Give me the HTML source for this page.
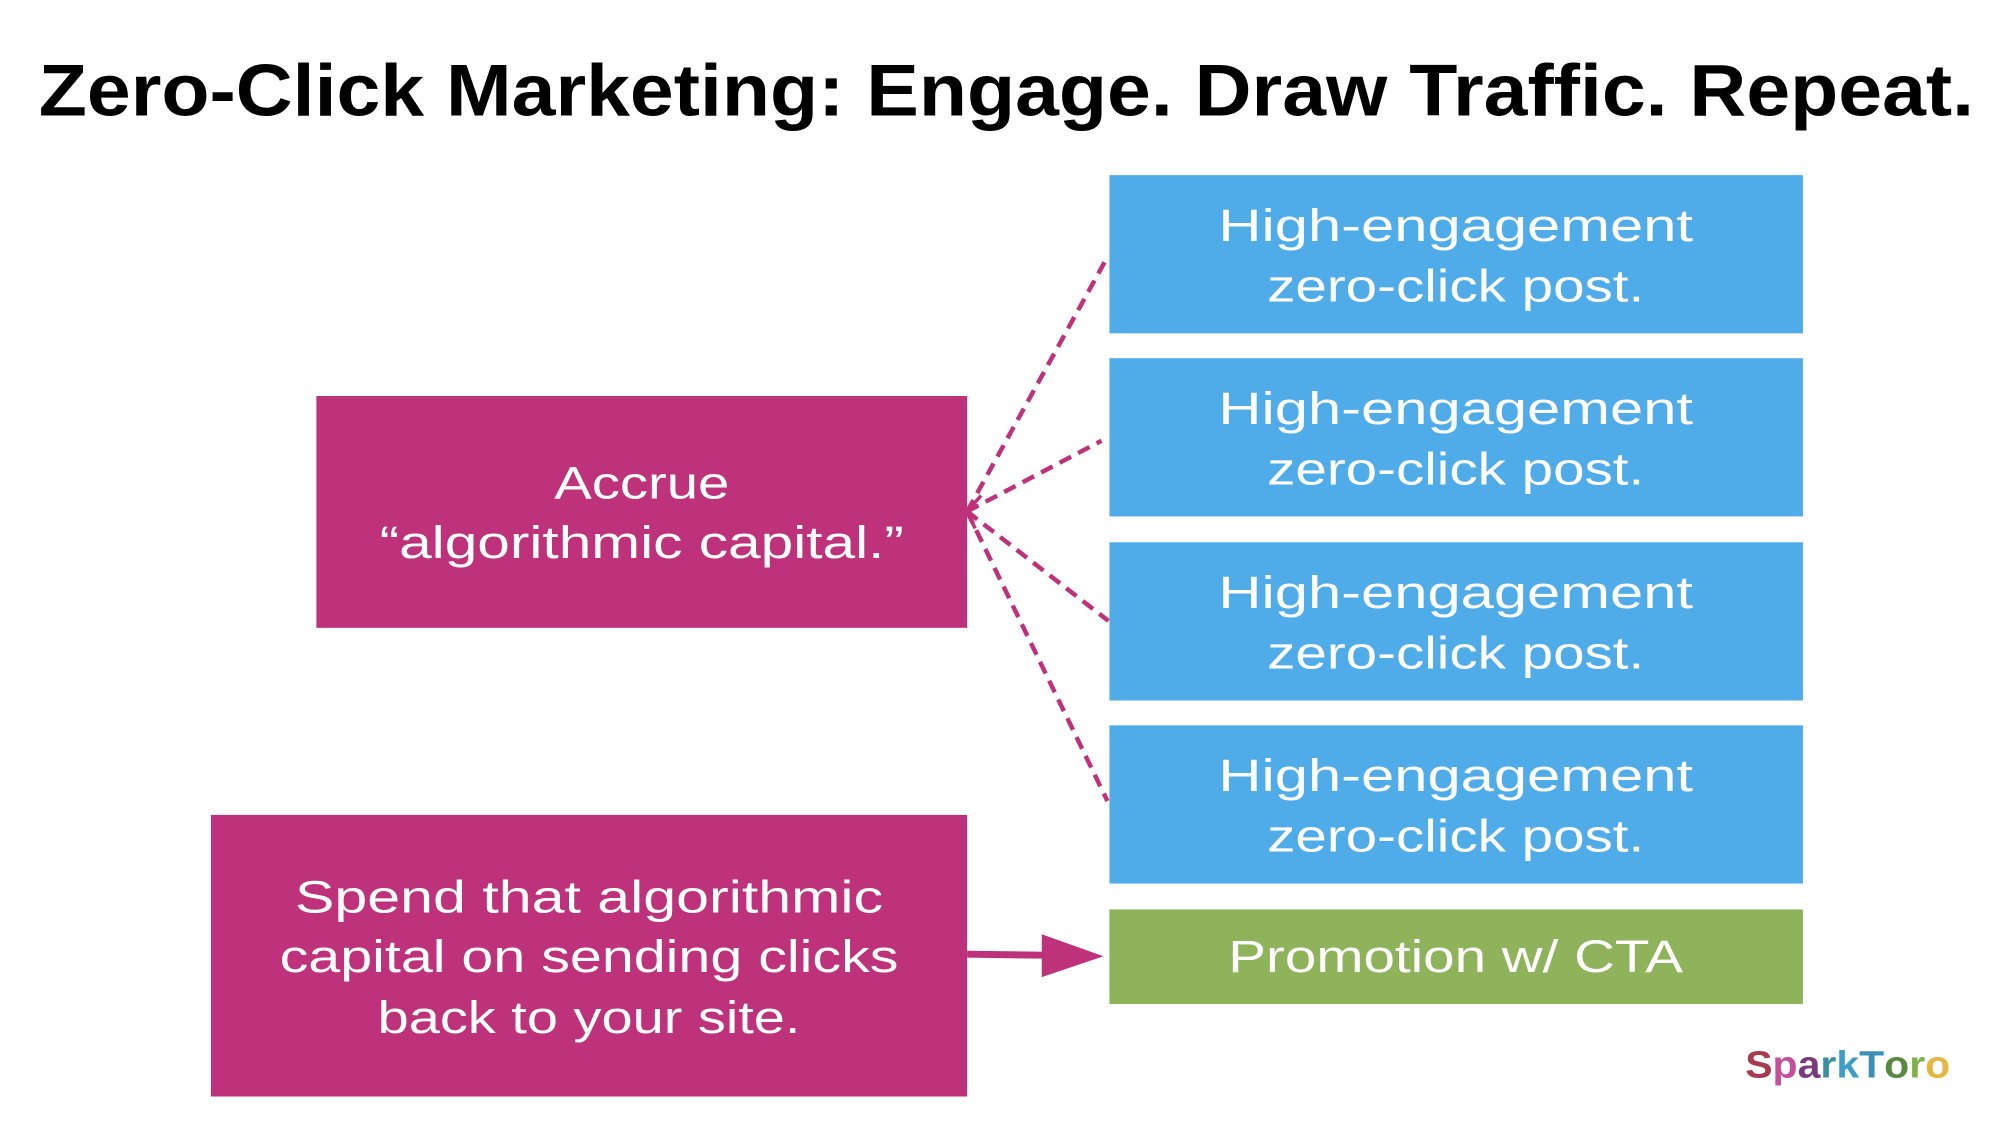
<!DOCTYPE html>
<html><head><meta charset="utf-8"><style>html,body{margin:0;padding:0;background:#fff}svg{display:block}</style></head><body>
<svg width="2016" height="1136" viewBox="0 0 2016 1136" xmlns="http://www.w3.org/2000/svg" font-family="Liberation Sans, sans-serif">
<g transform="scale(0.995)">
<text x="39" y="116" font-size="74" font-weight="bold" fill="#000" textLength="1945" lengthAdjust="spacingAndGlyphs">Zero-Click Marketing: Engage. Draw Traffic. Repeat.</text>
<g fill="#4FACE9">
<rect x="1115" y="176" width="697" height="159"/>
<rect x="1115" y="360" width="697" height="159"/>
<rect x="1115" y="545" width="697" height="159"/>
<rect x="1115" y="729" width="697" height="159"/>
</g>
<rect x="1115" y="914" width="697" height="95" fill="#8FB35A"/>
<rect x="318" y="398" width="654" height="233" fill="#BD327B"/>
<rect x="212" y="819" width="760" height="283" fill="#BD327B"/>
<g stroke="#BD327B" stroke-width="4.5" stroke-dasharray="13,8" fill="none">
<line x1="972" y1="514" x2="1111" y2="262"/>
<line x1="972" y1="514" x2="1107" y2="443"/>
<line x1="972" y1="514" x2="1114" y2="624"/>
<line x1="972" y1="514" x2="1113" y2="805"/>
</g>
<polyline points="986,498 972,514 980,531" stroke="#BD327B" stroke-width="3.5" fill="none"/>
<line x1="972" y1="959" x2="1050" y2="960" stroke="#BD327B" stroke-width="7"/>
<polygon points="1047,939 1109,961 1047,982" fill="#BD327B"/>
<g fill="#fff" font-size="46" text-anchor="middle">
<text x="1463" y="242" textLength="477" lengthAdjust="spacingAndGlyphs">High-engagement</text>
<text x="1463" y="303" textLength="379" lengthAdjust="spacingAndGlyphs">zero-click post.</text>
<text x="1463" y="426" textLength="477" lengthAdjust="spacingAndGlyphs">High-engagement</text>
<text x="1463" y="487" textLength="379" lengthAdjust="spacingAndGlyphs">zero-click post.</text>
<text x="1463" y="611" textLength="477" lengthAdjust="spacingAndGlyphs">High-engagement</text>
<text x="1463" y="672" textLength="379" lengthAdjust="spacingAndGlyphs">zero-click post.</text>
<text x="1463" y="795" textLength="477" lengthAdjust="spacingAndGlyphs">High-engagement</text>
<text x="1463" y="856" textLength="379" lengthAdjust="spacingAndGlyphs">zero-click post.</text>
<text x="1463" y="977" textLength="457" lengthAdjust="spacingAndGlyphs">Promotion w/ CTA</text>
<text x="645" y="501" textLength="176" lengthAdjust="spacingAndGlyphs">Accrue</text>
<text x="645" y="561" textLength="527" lengthAdjust="spacingAndGlyphs">“algorithmic capital.”</text>
<text x="592" y="917" textLength="591" lengthAdjust="spacingAndGlyphs">Spend that algorithmic</text>
<text x="592" y="977" textLength="622" lengthAdjust="spacingAndGlyphs">capital on sending clicks</text>
<text x="592" y="1038" textLength="425" lengthAdjust="spacingAndGlyphs">back to your site.</text>
</g>
<text x="1754" y="1083" font-size="38" font-weight="bold" textLength="206" lengthAdjust="spacingAndGlyphs"><tspan fill="#A83A4E">S</tspan><tspan fill="#C4509A">p</tspan><tspan fill="#7A3A7E">a</tspan><tspan fill="#3A8FA0">r</tspan><tspan fill="#3E9CC8">k</tspan><tspan fill="#3E8FB8">T</tspan><tspan fill="#5A8A40">o</tspan><tspan fill="#7FB04A">r</tspan><tspan fill="#E2B840">o</tspan></text>
</g>
</svg>
</body></html>
